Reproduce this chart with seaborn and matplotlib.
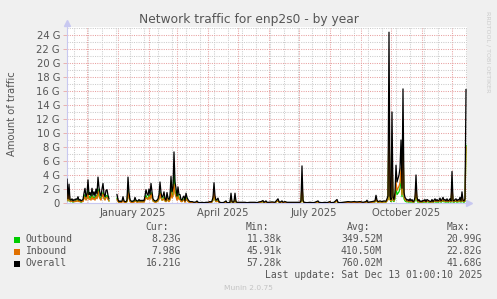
import numpy as np
import pandas as pd
import matplotlib
matplotlib.use("Agg")
import matplotlib.pyplot as plt
import matplotlib.dates as mdates
from matplotlib.patches import Rectangle
import seaborn as sns

# ---------------- data (daily averages, in G) ----------------
start_date = "2024-11-11"
days = [0, 1, 2, 3, 4, 5, 6, 7, 8, 9, 10, 11, 12, 13, 14, 15, 16, 17, 18, 19,
        20, 21, 22, 23, 24, 25, 26, 27, 28, 29, 30, 31, 32, 33, 34, 35, 36, 37, 38, 39,
        40, 41, 42, 46,
        50, 51, 52, 53, 54, 55, 56, 57, 58, 59,
        60, 61, 62, 63, 64, 65, 66, 67, 68, 69,
        70, 71, 72, 73, 74, 75, 76, 77, 78, 79,
        80, 81, 82, 83, 84, 85, 86, 87, 88, 89,
        90, 91, 92, 93, 94, 95, 96, 97, 98, 99,
        100, 101, 102, 103, 104, 105, 106, 107, 108, 109,
        110, 111, 112, 113, 114, 115, 116, 117, 118, 119,
        120, 121, 122, 123, 125, 127, 129, 130, 131, 133,
        135, 137, 139, 141, 143, 144, 145, 146, 147, 148,
        149, 150, 151, 152, 153, 155, 157, 159, 160, 162,
        163, 164, 165, 166, 167, 168, 169, 170, 172, 175,
        178, 180, 183, 185, 188, 190, 192, 194, 196, 197,
        199, 200, 202, 205, 208, 211, 212, 213, 215, 216,
        218, 220, 222, 233, 234, 235, 236, 237, 240, 243,
        246, 248, 251, 252, 255, 258, 260, 263, 264, 267,
        270, 271, 273, 276, 279, 281, 284, 287, 290, 293,
        296, 299, 300, 301, 303, 305, 308, 309, 310, 311,
        313, 315, 317, 319, 320, 321, 322, 323, 324, 325,
        326, 327, 328, 329, 330, 331, 332, 333, 334, 335,
        336, 337, 338, 339, 340, 341, 342, 343, 344, 345,
        346, 347, 348, 349, 350, 351, 352, 353, 354, 355,
        356, 357, 358, 359, 360, 362, 364, 365, 366, 367,
        368, 369, 370, 371, 372, 373, 374, 375, 376, 377,
        378, 379, 380, 381, 382, 383, 384, 385, 386, 387,
        388, 389, 390, 391, 392, 393, 394, 395, 396, 397, 398, 399]

overall = [3.4, 0.6, 2.7, 0.5, 0.4, 0.6, 0.3, 0.5, 0.4, 0.6, 0.5, 0.9, 0.4, 0.5, 0.3, 0.4, 0.5, 1.4, 2.1, 0.9,
           1.3, 3.3, 1.2, 1.5, 1.0, 2.1, 1.1, 1.6, 1.0, 2.0, 1.3, 3.7, 2.2, 1.4, 1.0, 2.0, 2.8, 1.3, 0.9, 1.8,
           1.9, 1.1, 0.6, np.nan,
           1.2, 0.5, 0.2, 0.3, 0.2, 0.3, 0.9, 0.3, 0.2, 0.2,
           0.4, 3.7, 1.5, 0.5, 0.3, 0.2, 0.3, 0.3, 0.8, 0.4,
           0.3, 0.3, 0.5, 0.3, 0.4, 0.3, 0.4, 0.3, 1.0, 1.9,
           1.3, 1.1, 2.0, 1.2, 2.8, 1.6, 0.6, 0.4, 0.3, 0.3,
           0.4, 0.6, 1.2, 3.0, 1.5, 0.8, 1.0, 1.6, 0.6, 0.4,
           1.5, 0.7, 0.5, 1.0, 3.8, 1.6, 2.2, 7.3, 3.0, 2.1,
           1.0, 2.3, 1.2, 1.2, 0.5, 0.4, 0.8, 1.0, 0.3, 1.4,
           0.8, 0.5, 0.3, 0.2, 0.2, 0.1, 0.15, 0.3, 0.1, 0.05,
           0.1, 0.05, 0.1, 0.1, 0.2, 0.15, 0.3, 0.8, 2.9, 1.0,
           0.4, 0.5, 0.7, 0.2, 0.1, 0.05, 0.1, 0.3, 0.05, 0.05,
           0.1, 1.4, 0.2, 0.1, 0.2, 1.4, 0.2, 0.1, 0.1, 0.1,
           0.1, 0.05, 0.1, 0.1, 0.1, 0.05, 0.15, 0.2, 0.35, 0.1,
           0.3, 0.1, 0.1, 0.15, 0.1, 0.6, 0.2, 0.1, 0.3, 0.1,
           0.2, 0.1, 0.1, 0.1, 0.3, 5.3, 0.4, 0.1, 0.05, 0.1,
           0.05, 0.1, 0.3, 0.1, 0.05, 0.1, 0.05, 0.2, 0.05, 0.1,
           0.5, 0.1, 0.05, 0.1, 0.15, 0.2, 0.15, 0.2, 0.15, 0.2,
           0.1, 0.2, 0.4, 0.1, 0.15, 0.2, 0.3, 1.1, 0.4, 0.2,
           0.3, 0.2, 0.3, 0.25, 0.6, 1.0, 24.4, 1.0, 0.5, 13.0,
           0.8, 0.5, 1.5, 5.4, 3.0, 3.5, 4.0, 5.0, 9.0, 2.1,
           16.3, 1.5, 0.8, 0.6, 0.4, 0.5, 0.3, 0.6, 0.3, 0.5,
           0.2, 0.3, 0.8, 4.0, 0.8, 0.3, 0.5, 0.2, 0.3, 0.2,
           0.4, 0.3, 0.5, 0.2, 0.5, 0.3, 0.2, 0.5, 0.2, 0.4,
           0.6, 0.3, 0.5, 0.3, 0.4, 0.7, 0.3, 0.5, 0.8, 0.4,
           0.5, 0.3, 0.6, 0.3, 0.4, 0.6, 0.3, 4.5, 0.4, 0.3,
           0.5, 0.6, 0.3, 0.5, 0.4, 0.8, 0.3, 1.6, 0.4, 0.3, 0.6, 16.21]

outbound = [1.6, 0.3, 1.3, 0.2, 0.2, 0.3, 0.1, 0.3, 0.2, 0.3, 0.3, 0.5, 0.2, 0.3, 0.1, 0.2, 0.3, 0.8, 1.2, 0.5,
            0.7, 1.9, 0.7, 0.9, 0.6, 1.2, 0.6, 0.9, 0.6, 1.1, 0.7, 2.0, 1.3, 0.8, 0.6, 1.1, 1.5, 0.7, 0.5, 1.0,
            1.1, 0.6, 0.3, np.nan,
            0.7, 0.3, 0.1, 0.2, 0.1, 0.2, 0.5, 0.2, 0.1, 0.1,
            0.2, 2.1, 0.8, 0.3, 0.2, 0.1, 0.2, 0.2, 0.5, 0.2,
            0.2, 0.2, 0.3, 0.2, 0.2, 0.2, 0.2, 0.2, 0.6, 1.1,
            0.7, 0.6, 1.1, 0.7, 1.5, 0.9, 0.3, 0.2, 0.2, 0.2,
            0.2, 0.3, 0.7, 1.6, 0.8, 0.4, 0.6, 0.9, 0.3, 0.2,
            0.8, 0.4, 0.3, 0.6, 2.2, 0.9, 1.2, 4.6, 1.7, 1.2,
            0.6, 1.3, 0.7, 0.7, 0.3, 0.2, 0.4, 0.6, 0.2, 0.8,
            0.4, 0.3, 0.2, 0.1, 0.1, 0.05, 0.08, 0.15, 0.05, 0.03,
            0.05, 0.03, 0.05, 0.05, 0.1, 0.08, 0.15, 0.4, 1.3, 0.5,
            0.2, 0.3, 0.4, 0.1, 0.05, 0.03, 0.05, 0.15, 0.03, 0.03,
            0.05, 0.6, 0.1, 0.05, 0.1, 0.8, 0.1, 0.05, 0.05, 0.05,
            0.05, 0.03, 0.05, 0.05, 0.05, 0.03, 0.08, 0.1, 0.15, 0.05,
            0.15, 0.05, 0.05, 0.08, 0.05, 0.3, 0.1, 0.05, 0.15, 0.05,
            0.1, 0.05, 0.05, 0.05, 0.15, 2.5, 0.2, 0.05, 0.03, 0.05,
            0.03, 0.05, 0.15, 0.05, 0.03, 0.05, 0.03, 0.1, 0.03, 0.05,
            0.25, 0.05, 0.03, 0.05, 0.08, 0.1, 0.08, 0.1, 0.08, 0.1,
            0.05, 0.1, 0.2, 0.05, 0.08, 0.1, 0.15, 0.5, 0.2, 0.1,
            0.15, 0.1, 0.15, 0.12, 0.3, 0.5, 11.8, 0.5, 0.2, 6.2,
            0.3, 0.2, 0.6, 2.3, 1.2, 1.4, 1.6, 2.1, 4.0, 0.9,
            7.8, 0.6, 0.3, 0.2, 0.15, 0.2, 0.1, 0.25, 0.1, 0.2,
            0.1, 0.1, 0.3, 1.8, 0.3, 0.1, 0.2, 0.1, 0.1, 0.1,
            0.15, 0.1, 0.2, 0.1, 0.2, 0.1, 0.1, 0.2, 0.1, 0.15,
            0.25, 0.1, 0.2, 0.1, 0.15, 0.3, 0.1, 0.2, 0.35, 0.15,
            0.2, 0.1, 0.25, 0.1, 0.15, 0.25, 0.1, 2.1, 0.15, 0.1,
            0.2, 0.25, 0.1, 0.2, 0.15, 0.35, 0.1, 0.7, 0.15, 0.1, 0.25, 8.23]

inbound = [1.8, 0.3, 1.4, 0.3, 0.2, 0.3, 0.2, 0.2, 0.2, 0.3, 0.2, 0.4, 0.2, 0.2, 0.2, 0.2, 0.2, 0.6, 0.9, 0.4,
           0.6, 1.4, 0.5, 0.6, 0.4, 0.9, 0.5, 0.7, 0.4, 0.9, 0.6, 1.7, 0.9, 0.6, 0.4, 0.9, 1.3, 0.6, 0.4, 0.8,
           0.8, 0.5, 0.3, np.nan,
           0.5, 0.2, 0.1, 0.1, 0.1, 0.1, 0.4, 0.1, 0.1, 0.1,
           0.2, 1.6, 0.7, 0.2, 0.1, 0.1, 0.1, 0.1, 0.3, 0.2,
           0.1, 0.1, 0.2, 0.1, 0.2, 0.1, 0.2, 0.1, 0.4, 0.8,
           0.6, 0.5, 0.9, 0.5, 1.3, 0.7, 0.3, 0.2, 0.1, 0.1,
           0.2, 0.3, 0.5, 1.4, 0.7, 0.4, 0.4, 0.7, 0.3, 0.2,
           0.7, 0.3, 0.2, 0.4, 1.6, 0.7, 1.0, 2.7, 1.3, 0.9,
           0.4, 1.0, 0.5, 0.5, 0.2, 0.2, 0.4, 0.4, 0.1, 0.6,
           0.4, 0.2, 0.1, 0.1, 0.1, 0.05, 0.07, 0.15, 0.05, 0.02,
           0.05, 0.02, 0.05, 0.05, 0.1, 0.07, 0.15, 0.4, 1.6, 0.5,
           0.2, 0.2, 0.3, 0.1, 0.05, 0.02, 0.05, 0.15, 0.02, 0.02,
           0.05, 0.8, 0.1, 0.05, 0.1, 0.6, 0.1, 0.05, 0.05, 0.05,
           0.05, 0.02, 0.05, 0.05, 0.05, 0.02, 0.07, 0.1, 0.2, 0.05,
           0.15, 0.05, 0.05, 0.07, 0.05, 0.3, 0.1, 0.05, 0.15, 0.05,
           0.1, 0.05, 0.05, 0.05, 0.15, 2.8, 0.2, 0.05, 0.02, 0.05,
           0.02, 0.05, 0.15, 0.05, 0.02, 0.05, 0.02, 0.1, 0.02, 0.05,
           0.25, 0.05, 0.02, 0.05, 0.07, 0.1, 0.07, 0.1, 0.07, 0.1,
           0.05, 0.1, 0.2, 0.05, 0.07, 0.1, 0.15, 0.6, 0.2, 0.1,
           0.15, 0.1, 0.15, 0.13, 0.3, 0.5, 12.6, 0.5, 0.3, 6.8,
           0.5, 0.3, 0.9, 3.1, 1.8, 2.1, 2.4, 2.9, 5.0, 1.2,
           8.5, 0.9, 0.5, 0.4, 0.25, 0.3, 0.2, 0.35, 0.2, 0.3,
           0.1, 0.2, 0.5, 2.2, 0.5, 0.2, 0.3, 0.1, 0.2, 0.1,
           0.25, 0.2, 0.3, 0.1, 0.3, 0.2, 0.1, 0.3, 0.1, 0.25,
           0.35, 0.2, 0.3, 0.2, 0.25, 0.4, 0.2, 0.3, 0.45, 0.25,
           0.3, 0.2, 0.35, 0.2, 0.25, 0.35, 0.2, 2.4, 0.25, 0.2,
           0.3, 0.35, 0.2, 0.3, 0.25, 0.45, 0.2, 0.9, 0.25, 0.2, 0.35, 7.98]

series_names = ["Outbound", "Inbound", "Overall"]
series_colors = ["#00CC00", "#E07000", "#000000"]
cur_vals = ["8.23G", "7.98G", "16.21G"]
min_vals = ["11.38k", "45.91k", "57.28k"]
avg_vals = ["349.52M", "410.50M", "760.02M"]
max_vals = ["20.99G", "22.82G", "41.68G"]
y_ticks = [0, 2, 4, 6, 8, 10, 12, 14, 16, 18, 20, 22, 24]
x_label_dates = ["2025-01-16", "2025-04-16", "2025-07-16", "2025-10-16"]
x_label_texts = ["January 2025", "April 2025", "July 2025", "October 2025"]
title = "Network traffic for enp2s0 - by year"
last_update = "Last update: Sat Dec 13 01:00:10 2025"

# ---------------- frame ----------------
W, H = 497, 299
fig = plt.figure(figsize=(W / 100, H / 100), dpi=100, facecolor="#F0F0F0")
L, R, T, B = 67, 467, 27, 203
ax = fig.add_axes([L / W, 1 - B / H, (R - L) / W, (B - T) / H])
ax.set_facecolor("white")

start = pd.Timestamp(start_date)
df = pd.DataFrame({"day": days, "Outbound": outbound, "Inbound": inbound, "Overall": overall})
df["date"] = start + pd.to_timedelta(df["day"], unit="D")
df["seg"] = df["Overall"].isna().cumsum()
long = df.melt(id_vars=["date", "seg"], value_vars=series_names,
               var_name="series", value_name="value").dropna()

for name, col in zip(series_names, series_colors):
    sub = long[long["series"] == name]
    sns.lineplot(data=sub, x="date", y="value", units="seg", estimator=None,
                 color=col, lw=0.9, ax=ax, legend=False, zorder=3)

end = start + pd.Timedelta(days=400)
ax.set_xlim(start, end)
ax.set_ylim(0, (B - T) / 7.0)

# grid
month_ticks = pd.date_range("2024-12-01", "2025-12-01", freq="MS")
week_ticks = pd.date_range("2024-11-18", end, freq="14D")
ax.set_xticks(month_ticks)
ax.set_xticks(week_ticks, minor=True)
ax.set_yticks(y_ticks)
ax.set_yticks([v + 1 for v in y_ticks], minor=True)
ax.set_yticklabels(["0" if v == 0 else f"{v} G" for v in y_ticks])
ax.tick_params(axis="x", which="both", labelbottom=False, length=0)
ax.tick_params(axis="y", which="major", length=3, width=0.6, color="#E8A8A8",
               labelsize=7.2, labelcolor="#555555", pad=2)
ax.tick_params(axis="y", which="minor", length=0)
dash = (0, (1.0, 1.2))
ax.grid(which="minor", color="#CCCCCC", lw=0.75, ls=dash, zorder=1)
ax.grid(which="major", color="#E8A0A0", lw=0.75, ls=dash, zorder=1)
ax.set_axisbelow(True)
ax.set_xlabel("")
ax.set_ylabel("")

for s in ["top", "right"]:
    ax.spines[s].set_visible(False)
for s in ["left", "bottom"]:
    ax.spines[s].set_color("#C8C8F0")
    ax.spines[s].set_linewidth(0.8)
ax.plot([0], [1.02], marker="^", color="#C8C8F0", ms=4, transform=ax.transAxes, clip_on=False)
ax.plot([1.005], [0], marker=">", color="#C8C8F0", ms=4, transform=ax.transAxes, clip_on=False)

for d, t in zip(x_label_dates, x_label_texts):
    ax.text(pd.Timestamp(d), -0.057, t, transform=ax.get_xaxis_transform(),
            ha="center", va="center", fontsize=7.2, color="#555555")

# texts
fig.text(249 / W, 1 - 19 / H, title, ha="center", va="center", fontsize=8.8, color="#555555")
fig.text(12 / W, 1 - 114 / H, "Amount of traffic", rotation=90, ha="center", va="center",
         fontsize=7.2, color="#555555")
fig.text(488 / W, 1 - 52 / H, "RRDTOOL / TOBI OETIKER", rotation=270, ha="center", va="center",
         fontsize=4.6, color="#CCCCCC")

mono = "DejaVu Sans Mono"
tc = "#555555"
fs = 7.0
hy = 1 - 227 / H
for x, h in zip([145, 246, 347, 447], ["Cur:", "Min:", "Avg:", "Max:"]):
    fig.text(x / W, hy, h, ha="left", va="center", family=mono, fontsize=fs, color=tc)
row_y = [239.5, 251.5, 263.5]
for i, name in enumerate(series_names):
    y = 1 - row_y[i] / H
    fig.patches.append(Rectangle((14 / W, y - 3 / H), 6 / W, 6 / H, transform=fig.transFigure,
                                 facecolor=series_colors[i], edgecolor="none"))
    fig.text(26 / W, y, name, ha="left", va="center", family=mono, fontsize=fs, color=tc)
    for x, vals in zip([181, 282, 382, 482], [cur_vals, min_vals, avg_vals, max_vals]):
        fig.text(x / W, y, vals[i], ha="right", va="center", family=mono, fontsize=fs, color=tc)
fig.text(482 / W, 1 - 275.5 / H, last_update, ha="right", va="center", family=mono, fontsize=fs, color=tc)
fig.text(248 / W, 1 - 288 / H, "Munin 2.0.75", ha="center", va="center", fontsize=5.4, color="#C4C4C4")

fig.savefig("out.png", dpi=100, facecolor=fig.get_facecolor())
